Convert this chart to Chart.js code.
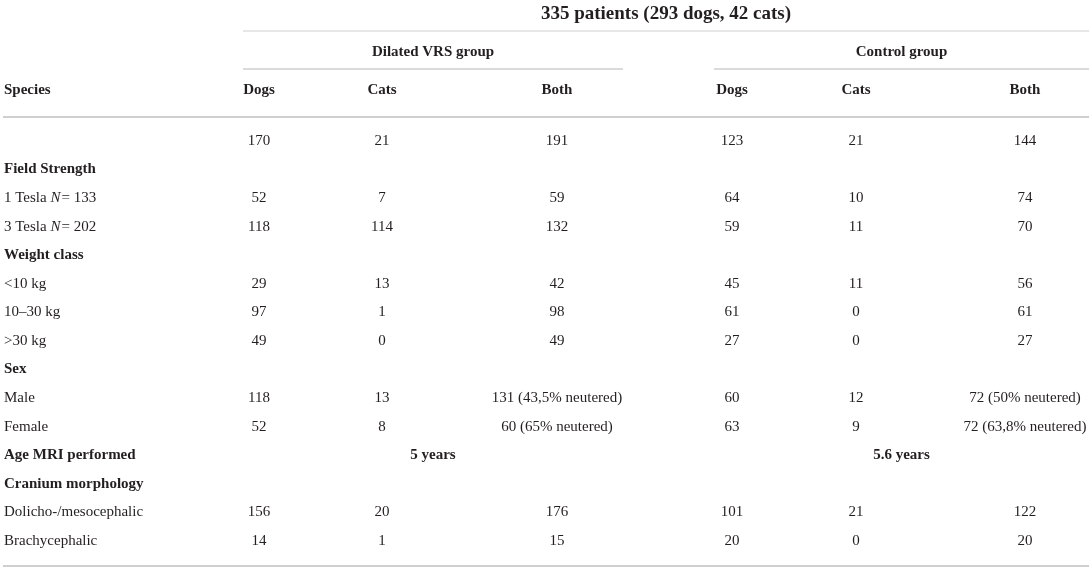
<!DOCTYPE html>
<html><head><meta charset="utf-8">
<script src="https://cdn.jsdelivr.net/npm/chart.js@4"></script>
<style>html,body{margin:0;padding:0;background:#fff;overflow:hidden}#wrap{width:1092px;height:572px;position:relative}</style>
</head><body><div id="wrap"><canvas id="c"></canvas></div>
<script>
// ---- data ----
const title = '335 patients (293 dogs, 42 cats)';
const groups = ['Dilated VRS group', 'Control group'];
const columnHeaders = ['Species', 'Dogs', 'Cats', 'Both', 'Dogs', 'Cats', 'Both'];
const categories = ['', 'Field Strength', '1 Tesla N = 133', '3 Tesla N = 202', 'Weight class', '<10 kg', '10–30 kg', '>30 kg', 'Sex', 'Male', 'Female', 'Age MRI performed', 'Cranium morphology', 'Dolicho-/mesocephalic', 'Brachycephalic'];
const sectionRows = ['Field Strength', 'Weight class', 'Sex', 'Age MRI performed', 'Cranium morphology'];
const vrsDogs  = ['170', '', '52', '118', '', '29', '97', '49', '', '118', '52', '', '', '156', '14'];
const vrsCats  = ['21', '', '7', '114', '', '13', '1', '0', '', '13', '8', '', '', '20', '1'];
const vrsBoth  = ['191', '', '59', '132', '', '42', '98', '49', '', '131 (43,5% neutered)', '60 (65% neutered)', '', '', '176', '15'];
const ctrlDogs = ['123', '', '64', '59', '', '45', '61', '27', '', '60', '63', '', '', '101', '20'];
const ctrlCats = ['21', '', '10', '11', '', '11', '0', '0', '', '12', '9', '', '', '21', '0'];
const ctrlBoth = ['144', '', '74', '70', '', '56', '61', '27', '', '72 (50% neutered)', '72 (63,8% neutered)', '', '', '122', '20'];
const ageMRI = ['5 years', '5.6 years'];
const ageRow = 'Age MRI performed';

// ---- layout (scale units = pixels of the table) ----
const COL_X = [4, 259, 382, 557, 732, 856, 1025];
const GROUP_SPAN = [[243, 623], [714, 1089]];
const TITLE_SPAN = [243, 1089];
const ROW0 = 141, STEP = 28.57;
const Y_TITLE = 14, Y_GROUP = 52, Y_HEAD = 90;
const Y_LINE_TITLE = 31, Y_LINE_GROUP = 69, Y_LINE_HEAD = 117, Y_LINE_BOTTOM = 566;
const FONT = '"Liberation Serif", "Times New Roman", serif';
const SIZE = 15;
const TEXT = '#231f20';
const RULE = '#cfcfcf';

const rowY = i => ROW0 + i * STEP;
const columns = [categories, vrsDogs, vrsCats, vrsBoth, ctrlDogs, ctrlCats, ctrlBoth];

const datasets = columns.map((col, c) => ({
  label: columnHeaders[c],
  data: col.map((v, i) => ({ x: COL_X[c], y: rowY(i), text: v })),
  pointRadius: 0,
  showLine: false
}));
// age row spanning cells
datasets.push({
  label: 'age',
  data: ageMRI.map((v, g) => ({ x: (GROUP_SPAN[g][0] + GROUP_SPAN[g][1]) / 2, y: rowY(categories.indexOf(ageRow)), text: v, bold: true })),
  pointRadius: 0,
  showLine: false
});

function drawLabel(ctx, text, x, y) {
  const m = text.match(/^(.*?)(N)( = .*)$/);
  ctx.font = SIZE + 'px ' + FONT;
  if (!m) { ctx.fillText(text, x, y); return; }
  ctx.fillText(m[1], x, y);
  let w = ctx.measureText(m[1]).width;
  ctx.font = 'italic ' + SIZE + 'px ' + FONT;
  ctx.fillText(m[2], x + w, y);
  w += ctx.measureText(m[2]).width + 1;
  ctx.font = SIZE + 'px ' + FONT;
  ctx.fillText(m[3].replace(' = ', '= '), x + w, y);
}

const tablePlugin = {
  id: 'table',
  afterDatasetsDraw(chart) {
    const ctx = chart.ctx;
    const xs = chart.scales.x, ys = chart.scales.y;
    const X = v => xs.getPixelForValue(v), Y = v => ys.getPixelForValue(v);
    ctx.save();
    const rule = (x0, x1, y, w) => {
      ctx.strokeStyle = RULE; ctx.lineWidth = w;
      ctx.beginPath(); ctx.moveTo(X(x0), Y(y)); ctx.lineTo(X(x1), Y(y)); ctx.stroke();
    };
    rule(TITLE_SPAN[0], TITLE_SPAN[1], Y_LINE_TITLE, 1);
    GROUP_SPAN.forEach(s => rule(s[0], s[1], Y_LINE_GROUP, 1.5));
    rule(3, 1089, Y_LINE_HEAD, 2);
    rule(3, 1089, Y_LINE_BOTTOM, 2);

    ctx.fillStyle = TEXT;
    ctx.textBaseline = 'middle';
    ctx.textAlign = 'center';
    ctx.font = 'bold 19px ' + FONT;
    ctx.fillText(title, X((TITLE_SPAN[0] + TITLE_SPAN[1]) / 2), Y(Y_TITLE));
    ctx.font = 'bold ' + SIZE + 'px ' + FONT;
    groups.forEach((g, i) => ctx.fillText(g, X((GROUP_SPAN[i][0] + GROUP_SPAN[i][1]) / 2), Y(Y_GROUP)));
    columnHeaders.forEach((h, c) => {
      ctx.textAlign = c === 0 ? 'left' : 'center';
      ctx.fillText(h, X(COL_X[c]), Y(Y_HEAD));
    });
    chart.data.datasets.forEach((ds, di) => {
      const meta = chart.getDatasetMeta(di);
      meta.data.forEach((el, i) => {
        const raw = ds.data[i];
        if (!raw.text) return;
        if (di === 0) {
          ctx.textAlign = 'left';
          if (sectionRows.includes(raw.text)) {
            ctx.font = 'bold ' + SIZE + 'px ' + FONT;
            ctx.fillText(raw.text, el.x, el.y);
          } else {
            drawLabel(ctx, raw.text, el.x, el.y);
          }
        } else {
          ctx.textAlign = 'center';
          ctx.font = (raw.bold ? 'bold ' : '') + SIZE + 'px ' + FONT;
          ctx.fillText(raw.text, el.x, el.y);
        }
      });
    });
    ctx.restore();
  }
};

new Chart(document.getElementById('c'), {
  type: 'scatter',
  data: { datasets },
  options: {
    responsive: true,
    maintainAspectRatio: false,
    animation: false,
    events: [],
    layout: { padding: 0 },
    plugins: { legend: { display: false }, tooltip: { enabled: false } },
    scales: {
      x: { type: 'linear', min: 0, max: 1092, display: false },
      y: { type: 'linear', min: 0, max: 572, reverse: true, display: false }
    }
  },
  plugins: [tablePlugin]
});
</script>
</body></html>
